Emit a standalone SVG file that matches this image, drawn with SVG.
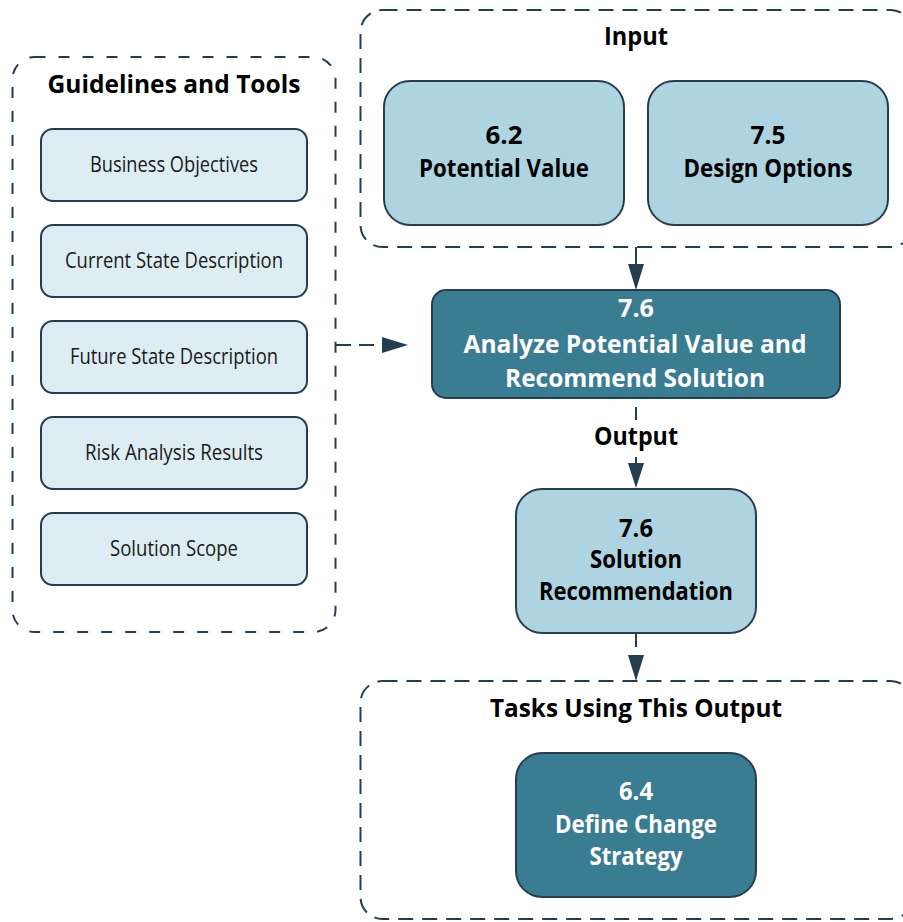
<svg xmlns="http://www.w3.org/2000/svg" width="903" height="922" viewBox="0 0 903 922">
<defs>
<style>
text{font-family:"Open Sans","Liberation Sans",sans-serif;text-anchor:middle;font-stretch:88%;}
.cont{fill:none;stroke:#263d4f;stroke-width:2;stroke-dasharray:15 9;}
.contl{fill:none;stroke:#263d4f;stroke-width:2;stroke-dasharray:11 13;}
.item{fill:#deedf3;stroke:#263d4f;stroke-width:2;}
.lb{fill:#aed4e1;stroke:#263d4f;stroke-width:2;}
.dk{fill:#3a7c91;stroke:#263d4f;stroke-width:2;}
.title{font-size:25px;font-weight:700;fill:#000;}
.it{font-size:21.5px;font-weight:400;fill:#1a1a1a;}
.bt{font-size:25px;font-weight:700;fill:#000;}
.wt{font-size:25.5px;font-weight:700;fill:#fff;}
.ln{fill:none;stroke:#263d4f;stroke-width:2;}
.ah{fill:#263d4f;}
</style>
</defs>

<g id="guidelines">
<rect class="contl" x="12.5" y="57" width="323" height="575" rx="22"/>
<text class="title" x="174" y="93" textLength="253" lengthAdjust="spacingAndGlyphs">Guidelines and Tools</text>
</g>
<g id="business-objectives">
<rect class="item" x="41" y="129" width="266" height="72" rx="12"/>
<text class="it" x="174" y="172" textLength="168" lengthAdjust="spacingAndGlyphs">Business Objectives</text>
</g>
<g id="current-state">
<rect class="item" x="41" y="225" width="266" height="72" rx="12"/>
<text class="it" x="174" y="268" textLength="218" lengthAdjust="spacingAndGlyphs">Current State Description</text>
</g>
<g id="future-state">
<rect class="item" x="41" y="321" width="266" height="72" rx="12"/>
<text class="it" x="174" y="364" textLength="208" lengthAdjust="spacingAndGlyphs">Future State Description</text>
</g>
<g id="risk-analysis">
<rect class="item" x="41" y="417" width="266" height="72" rx="12"/>
<text class="it" x="174" y="460" textLength="178" lengthAdjust="spacingAndGlyphs">Risk Analysis Results</text>
</g>
<g id="solution-scope">
<rect class="item" x="41" y="513" width="266" height="72" rx="12"/>
<text class="it" x="174" y="556" textLength="128" lengthAdjust="spacingAndGlyphs">Solution Scope</text>
</g>

<g id="input">
<rect class="cont" x="360.5" y="10" width="552" height="237" rx="22"/>
<text class="title" x="636" y="45" textLength="64" lengthAdjust="spacingAndGlyphs">Input</text>
</g>
<g id="potential-value">
<rect class="lb" x="384" y="81" width="240" height="144" rx="26"/>
<text class="bt" x="504" y="144" textLength="37" lengthAdjust="spacingAndGlyphs">6.2</text>
<text class="bt" x="504" y="177" textLength="170" lengthAdjust="spacingAndGlyphs">Potential Value</text>
</g>
<g id="design-options">
<rect class="lb" x="648" y="81" width="240" height="144" rx="26"/>
<text class="bt" x="768" y="144" textLength="35" lengthAdjust="spacingAndGlyphs">7.5</text>
<text class="bt" x="768" y="177" textLength="169" lengthAdjust="spacingAndGlyphs">Design Options</text>
</g>

<g id="analyze">
<rect class="dk" x="432" y="290" width="408" height="108" rx="14"/>
<text class="wt" x="636" y="317" textLength="36" lengthAdjust="spacingAndGlyphs">7.6</text>
<text class="wt" x="635" y="353" textLength="343" lengthAdjust="spacingAndGlyphs">Analyze Potential Value and</text>
<text class="wt" x="635" y="387" textLength="260" lengthAdjust="spacingAndGlyphs">Recommend Solution</text>
</g>

<g id="solution-recommendation">
<rect class="lb" x="516" y="489" width="240" height="144" rx="26"/>
<text class="bt" x="636" y="537" textLength="34" lengthAdjust="spacingAndGlyphs">7.6</text>
<text class="bt" x="636" y="568" textLength="92" lengthAdjust="spacingAndGlyphs">Solution</text>
<text class="bt" x="636" y="600" textLength="194" lengthAdjust="spacingAndGlyphs">Recommendation</text>
</g>

<g id="tasks">
<rect class="cont" x="360.5" y="681" width="552" height="238" rx="22"/>
<text class="title" x="636" y="717" textLength="292" lengthAdjust="spacingAndGlyphs">Tasks Using This Output</text>
</g>
<g id="define-change-strategy">
<rect class="dk" x="516" y="753" width="240" height="144" rx="26"/>
<text class="wt" x="636" y="800" textLength="34" lengthAdjust="spacingAndGlyphs">6.4</text>
<text class="wt" x="636" y="833" textLength="162" lengthAdjust="spacingAndGlyphs">Define Change</text>
<text class="wt" x="636" y="865" textLength="93" lengthAdjust="spacingAndGlyphs">Strategy</text>
</g>

<g id="connectors">
<path class="ln" d="M636,247 L636,265"/>
<polygon class="ah" points="628,264 644,264 636,290"/>
<path class="ln" d="M336,345 L351,345 M359,345 L374,345"/>
<polygon class="ah" points="382,337 382,353 408,345"/>
<path class="ln" d="M636,407 L636,420"/>
<text class="title" x="636" y="445" textLength="84" lengthAdjust="spacingAndGlyphs">Output</text>
<path class="ln" d="M636,457 L636,464"/>
<polygon class="ah" points="628,463 644,463 636,488"/>
<path class="ln" d="M636,634 L636,647"/>
<polygon class="ah" points="628,655 644,655 636,681"/>
</g>
</svg>
